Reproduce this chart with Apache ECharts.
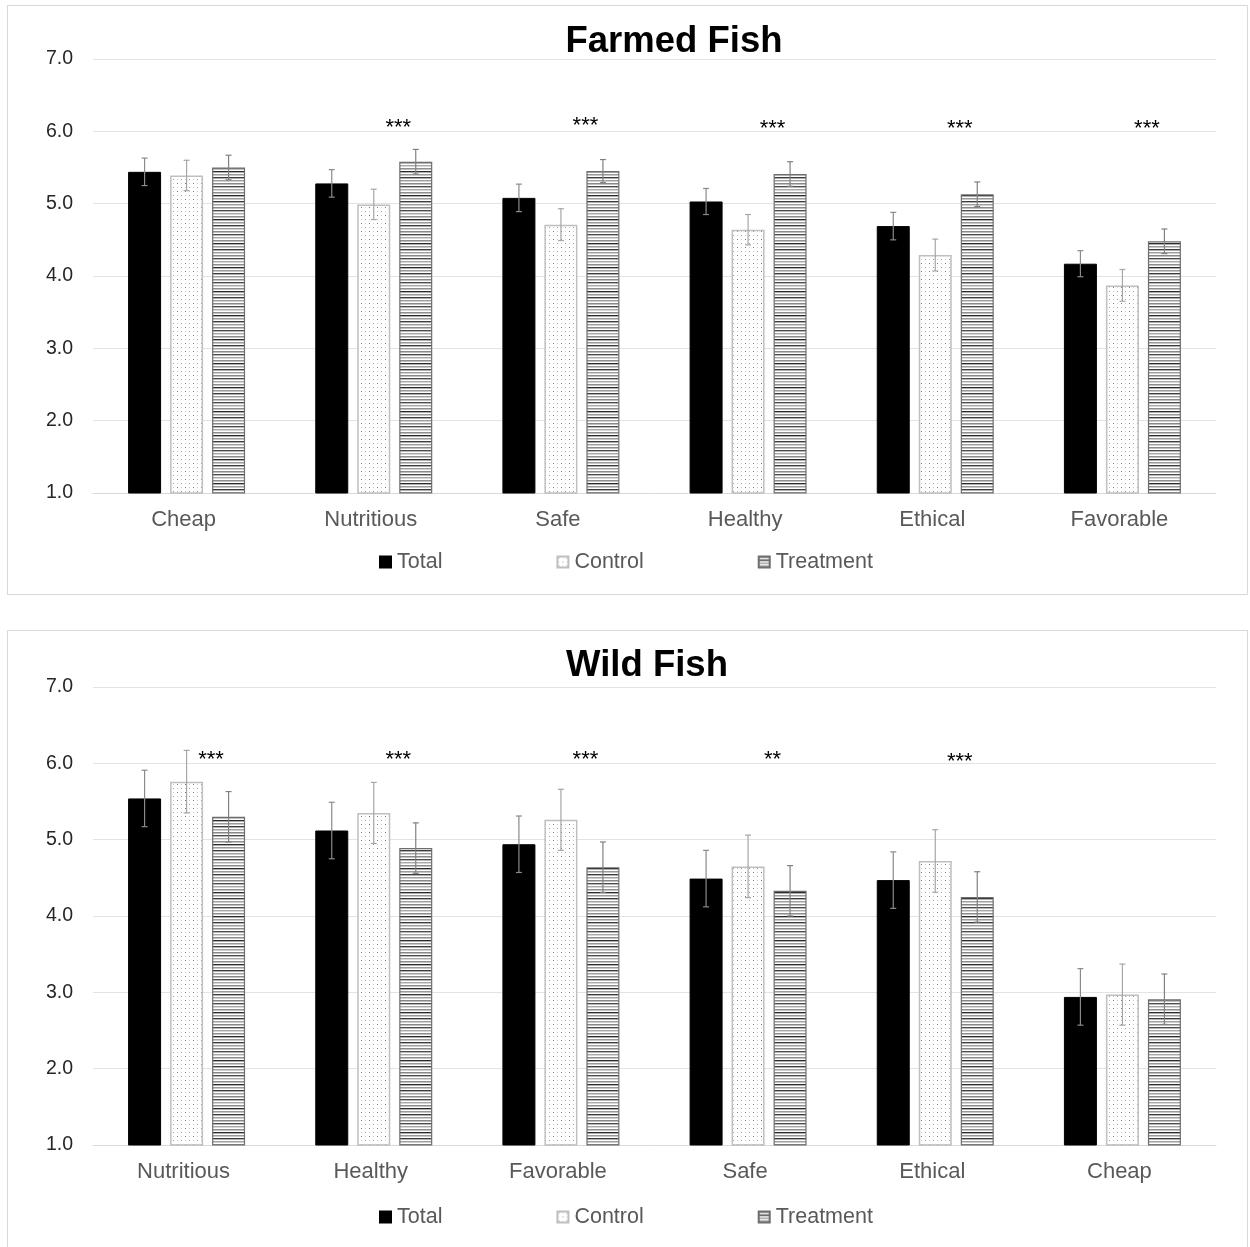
<!DOCTYPE html>
<html>
<head>
<meta charset="utf-8">
<title>Farmed and Wild Fish Perceptions</title>
<script src="https://cdn.jsdelivr.net/npm/echarts@6/dist/echarts.min.js"></script>
<style>
  html, body { margin: 0; padding: 0; background: #fff; }
  body { width: 1250px; height: 1247px; position: relative; overflow: hidden; }
  .panel { position: absolute; left: 7px; width: 1241px; border: 1px solid #d9d9d9; box-sizing: border-box; background: #fff; }
  #farmed { top: 5px; height: 590px; }
  #wild { top: 630px; height: 625px; }
</style>
</head>
<body>
<div id="farmed" class="panel"></div>
<div id="wild" class="panel"></div>
<script>
// Mean ratings (1–7 scale) with error-bar half widths
const seriesNames = ['Total', 'Control', 'Treatment'];
const yTicks = [1, 7, 1]; // min, max, interval

const farmedCategories = ['Cheap', 'Nutritious', 'Safe', 'Healthy', 'Ethical', 'Favorable'];
const farmedTotal      = [5.44, 5.28, 5.08, 5.03, 4.69, 4.17];
const farmedControl    = [5.39, 4.99, 4.71, 4.64, 4.29, 3.87];
const farmedTreatment  = [5.50, 5.58, 5.45, 5.41, 5.13, 4.48];
const farmedTotalErr     = [0.19, 0.19, 0.19, 0.18, 0.19, 0.18];
const farmedControlErr   = [0.21, 0.21, 0.22, 0.21, 0.22, 0.22];
const farmedTreatmentErr = [0.17, 0.17, 0.16, 0.17, 0.17, 0.17];
const farmedStars  = ['', '***', '***', '***', '***', '***'];
const farmedStarY  = [0, 6.05, 6.07, 6.03, 6.03, 6.03];

const wildCategories = ['Nutritious', 'Healthy', 'Favorable', 'Safe', 'Ethical', 'Cheap'];
const wildTotal      = [5.54, 5.12, 4.94, 4.49, 4.47, 2.94];
const wildControl    = [5.76, 5.35, 5.26, 4.65, 4.72, 2.97];
const wildTreatment  = [5.30, 4.89, 4.64, 4.33, 4.25, 2.91];
const wildTotalErr     = [0.37, 0.37, 0.37, 0.37, 0.37, 0.37];
const wildControlErr   = [0.41, 0.40, 0.40, 0.41, 0.41, 0.40];
const wildTreatmentErr = [0.33, 0.33, 0.33, 0.33, 0.33, 0.33];
const wildStars = ['***', '***', '***', '**', '***', ''];
const wildStarY = [6.05, 6.05, 6.05, 6.05, 6.02, 0];

// --- fill patterns ---
function dotPattern() {
  const c = document.createElement('canvas');
  c.width = 8; c.height = 8;
  const g = c.getContext('2d');
  g.fillStyle = '#ffffff'; g.fillRect(0, 0, 8, 8);
  g.fillStyle = '#7a7a7a'; g.fillRect(1, 1, 1, 1);
  g.fillStyle = '#9a9a9a'; g.fillRect(5, 5, 1, 1);
  g.fillStyle = '#cfcfcf'; g.fillRect(5, 1, 1, 1); g.fillRect(1, 5, 1, 1);
  return c;
}
function stripePattern() {
  const rows = ['#9a9a9a', '#c8c8c8', '#ffffff', '#3c3c3c', '#b0b0b0', '#ffffff',
                '#a0a0a0', '#d0d0d0', '#ffffff', '#888888', '#c0c0c0', '#ffffff',
                '#4c4c4c', '#b8b8b8', '#ffffff', '#a8a8a8', '#d8d8d8', '#ffffff',
                '#909090', '#c0c0c0', '#ffffff', '#2a2a2a', '#b0b0b0', '#ffffff'];
  const c = document.createElement('canvas');
  c.width = 4; c.height = rows.length;
  const g = c.getContext('2d');
  rows.forEach((col, i) => { g.fillStyle = col; g.fillRect(0, i, 4, 1); });
  return c;
}

const FONT = '"Liberation Sans", Arial, sans-serif';
const BAR_W = 33, BAR_GAP = 9;
const styles = [
  { color: '#000000', borderColor: '#000000', borderWidth: 1, err: '#8a8a8a' },
  { color: { image: dotPattern(), repeat: 'repeat' }, borderColor: '#bfbfbf', borderWidth: 1.5, err: '#a6a6a6' },
  { color: { image: stripePattern(), repeat: 'repeat' }, borderColor: '#6e6e6e', borderWidth: 1.2, err: '#808080' }
];

function buildOption(cfg) {
  const values = [cfg.total, cfg.control, cfg.treatment];
  const errs = [cfg.totalErr, cfg.controlErr, cfg.treatmentErr];
  const series = [];
  values.forEach((vals, s) => {
    series.push({
      name: seriesNames[s], type: 'bar', data: vals,
      barWidth: BAR_W, barGap: (BAR_GAP / BAR_W * 100) + '%',
      itemStyle: { color: styles[s].color, borderColor: styles[s].borderColor, borderWidth: styles[s].borderWidth },
      emphasis: { disabled: true }, silent: true, z: 2
    });
  });
  // error bars
  values.forEach((vals, s) => {
    const offset = (s - 1) * (BAR_W + BAR_GAP);
    series.push({
      type: 'custom', silent: true, z: 5,
      data: vals.map((v, i) => [i, v, errs[s][i]]),
      encode: { x: 0, y: 1 },
      renderItem: function (params, api) {
        const i = api.value(0), v = api.value(1), e = api.value(2);
        const hi = api.coord([i, v + e]);
        const lo = api.coord([i, v - e]);
        const x = hi[0] + offset;
        const st = { stroke: styles[s].err, lineWidth: 1.2 };
        return {
          type: 'group',
          children: [
            { type: 'line', shape: { x1: x, y1: hi[1], x2: x, y2: lo[1] }, style: st },
            { type: 'line', shape: { x1: x - 3, y1: hi[1], x2: x + 3, y2: hi[1] }, style: st },
            { type: 'line', shape: { x1: x - 3, y1: lo[1], x2: x + 3, y2: lo[1] }, style: st }
          ]
        };
      }
    });
  });
  // significance markers
  series.push({
    type: 'custom', silent: true, z: 6,
    data: cfg.stars.map((t, i) => [i, cfg.starY[i], t]).filter(d => d[2]),
    encode: { x: 0, y: 1 },
    renderItem: function (params, api) {
      const p = api.coord([api.value(0), api.value(1)]);
      return {
        type: 'text',
        style: {
          x: p[0] + 24.5, y: p[1], text: cfg.stars[api.value(0)],
          align: 'center', verticalAlign: 'middle',
          font: '22px ' + FONT, fill: '#000000'
        }
      };
    }
  });

  return {
    animation: false,
    title: {
      text: cfg.title, left: cfg.titleX, top: cfg.titleTop, textAlign: 'center',
      textStyle: { fontFamily: FONT, fontSize: 36.5, fontWeight: 'bold', color: '#000000' }
    },
    legend: {
      data: seriesNames, left: 366, top: cfg.legendTop,
      icon: 'rect', itemWidth: 11, itemHeight: 11, itemGap: 114,
      textStyle: { fontFamily: FONT, fontSize: 21.5, color: '#595959', padding: [0, 0, 0, 1] },
      selectedMode: false
    },
    grid: { left: 85, width: 1123, top: cfg.gridTop, height: cfg.gridHeight, containLabel: false },
    xAxis: {
      type: 'category', data: cfg.categories,
      axisLine: { show: true, lineStyle: { color: '#d9d9d9', width: 1 } },
      axisTick: { show: false },
      axisLabel: { color: '#595959', fontFamily: FONT, fontSize: 22, margin: 16, padding: [0, 6, 0, 0] },
      splitLine: { show: false }
    },
    yAxis: {
      type: 'value', min: yTicks[0], max: yTicks[1], interval: yTicks[2],
      axisLine: { show: false }, axisTick: { show: false },
      axisLabel: { color: '#262626', fontFamily: FONT, fontSize: 19.5, margin: 20, formatter: v => v.toFixed(1) },
      splitLine: { show: true, lineStyle: { color: '#e3e3e3', width: 1 } }
    },
    series: series
  };
}

const farmedChart = echarts.init(document.getElementById('farmed'), null, { renderer: 'canvas' });
farmedChart.setOption(buildOption({
  title: 'Farmed Fish', titleX: 661, titleTop: 12,
  categories: farmedCategories,
  total: farmedTotal, control: farmedControl, treatment: farmedTreatment,
  totalErr: farmedTotalErr, controlErr: farmedControlErr, treatmentErr: farmedTreatmentErr,
  stars: farmedStars, starY: farmedStarY,
  gridTop: 53, gridHeight: 434, legendTop: 540
}));

const wildChart = echarts.init(document.getElementById('wild'), null, { renderer: 'canvas' });
wildChart.setOption(buildOption({
  title: 'Wild Fish', titleX: 634, titleTop: 11,
  categories: wildCategories,
  total: wildTotal, control: wildControl, treatment: wildTreatment,
  totalErr: wildTotalErr, controlErr: wildControlErr, treatmentErr: wildTreatmentErr,
  stars: wildStars, starY: wildStarY,
  gridTop: 56, gridHeight: 458, legendTop: 570
}));
</script>
</body>
</html>
